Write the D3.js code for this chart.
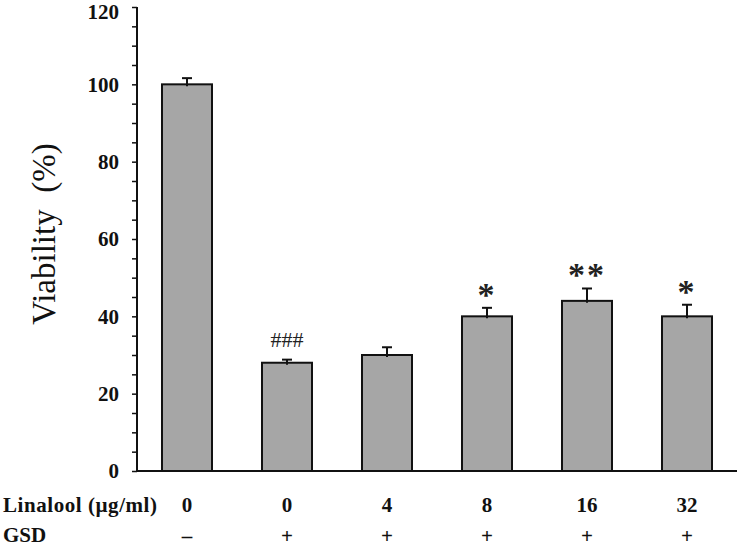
<!DOCTYPE html>
<html><head><meta charset="utf-8">
<script src="https://cdn.jsdelivr.net/npm/d3@7"></script>
<style>html,body{margin:0;padding:0;background:#fff}svg{display:block}</style>
</head><body>
<script>
const linalool = ["0", "0", "4", "8", "16", "32"];
const gsd = ["\u2013", "+", "+", "+", "+", "+"];
const viability = [100, 28, 30, 40, 44, 40];
const errors = [1.6, 0.8, 2.0, 2.2, 3.2, 3.0];
const marks = ["", "###", "", "*", "**", "*"];
const yTicks = [0, 20, 40, 60, 80, 100, 120];
const yMinorTicks = d3.range(0, 121, 5);

const W = 737, H = 547;
const svg = d3.select("body").append("svg").attr("width", W).attr("height", H);
const serif = "'Liberation Serif','Times New Roman',serif";

const x = d3.scaleBand().domain(d3.range(6)).range([137, 737]).paddingInner(0.5).paddingOuter(0.25);
const y = d3.scaleLinear().domain([0, 120]).range([471, 7]);

// bars
svg.append("g").selectAll("rect").data(viability).join("rect")
  .attr("x", (d, i) => x(i)).attr("y", d => y(d))
  .attr("width", x.bandwidth()).attr("height", d => y(0) - y(d))
  .attr("fill", "#a6a6a6").attr("stroke", "#111").attr("stroke-width", 2);

// error bars
const eg = svg.append("g").attr("stroke", "#111").attr("stroke-width", 2);
viability.forEach((v, i) => {
  const cx = x(i) + x.bandwidth() / 2;
  eg.append("line").attr("x1", cx).attr("x2", cx).attr("y1", y(v) + 2).attr("y2", y(v + errors[i]));
  eg.append("line").attr("x1", cx - 5).attr("x2", cx + 5).attr("y1", y(v + errors[i])).attr("y2", y(v + errors[i]));
});

// significance marks
marks.forEach((m, i) => {
  if (!m) return;
  const cx = x(i) + x.bandwidth() / 2;
  const top = y(viability[i] + errors[i]);
  if (m.startsWith("#")) {
    svg.append("text").attr("x", cx).attr("y", top - 13).attr("text-anchor", "middle")
      .attr("font-family", serif).attr("font-size", 22).attr("fill", "#222").text(m);
  } else {
    svg.append("text").attr("x", cx).attr("y", top - 2).attr("text-anchor", "middle")
      .attr("font-family", serif).attr("font-size", 34).attr("font-weight", "bold")
      .attr("letter-spacing", 2).attr("fill", "#222").text(m);
  }
});

// y axis
const yAxis = d3.axisLeft(y).tickValues(yMinorTicks).tickSize(5).tickPadding(13)
  .tickFormat(d => yTicks.includes(d) ? d : "");
const ya = svg.append("g").attr("transform", "translate(137,0)").call(yAxis);
ya.select(".domain").attr("stroke", "#111").attr("stroke-width", 2).attr("d", "M0,7V471");
ya.selectAll(".tick line").attr("stroke", "#111").attr("stroke-width", 1.5);
ya.selectAll(".tick text").attr("font-family", serif).attr("font-size", 21)
  .attr("font-weight", "bold").attr("fill", "#111")
  .attr("dy", d => d === 120 ? "0.55em" : "0.32em");

// x baseline
svg.append("line").attr("x1", 136).attr("x2", 737).attr("y1", y(0)).attr("y2", y(0))
  .attr("stroke", "#111").attr("stroke-width", 2);

// y label
svg.append("text").attr("transform", "translate(55,234) rotate(-90)").attr("text-anchor", "middle")
  .attr("font-family", serif).attr("font-size", 33).attr("fill", "#111").attr("xml:space", "preserve")
  .text("Viability  (%)");

// category rows
svg.append("text").attr("x", 3).attr("y", 512).attr("font-family", serif).attr("font-size", 21)
  .attr("font-weight", "bold").attr("fill", "#111").attr("textLength", 154).text("Linalool (\u00b5g/ml)");
svg.append("text").attr("x", 3).attr("y", 542).attr("font-family", serif).attr("font-size", 21)
  .attr("font-weight", "bold").attr("fill", "#111").text("GSD");

svg.append("g").selectAll("text").data(linalool).join("text")
  .attr("x", (d, i) => x(i) + x.bandwidth() / 2).attr("y", 512).attr("text-anchor", "middle")
  .attr("font-family", serif).attr("font-size", 21).attr("font-weight", "bold").attr("fill", "#111").text(d => d);
svg.append("g").selectAll("text").data(gsd).join("text")
  .attr("x", (d, i) => x(i) + x.bandwidth() / 2).attr("y", 543).attr("text-anchor", "middle")
  .attr("font-family", serif).attr("font-size", 21).attr("font-weight", "bold").attr("fill", "#111").text(d => d);
</script>
</body></html>
